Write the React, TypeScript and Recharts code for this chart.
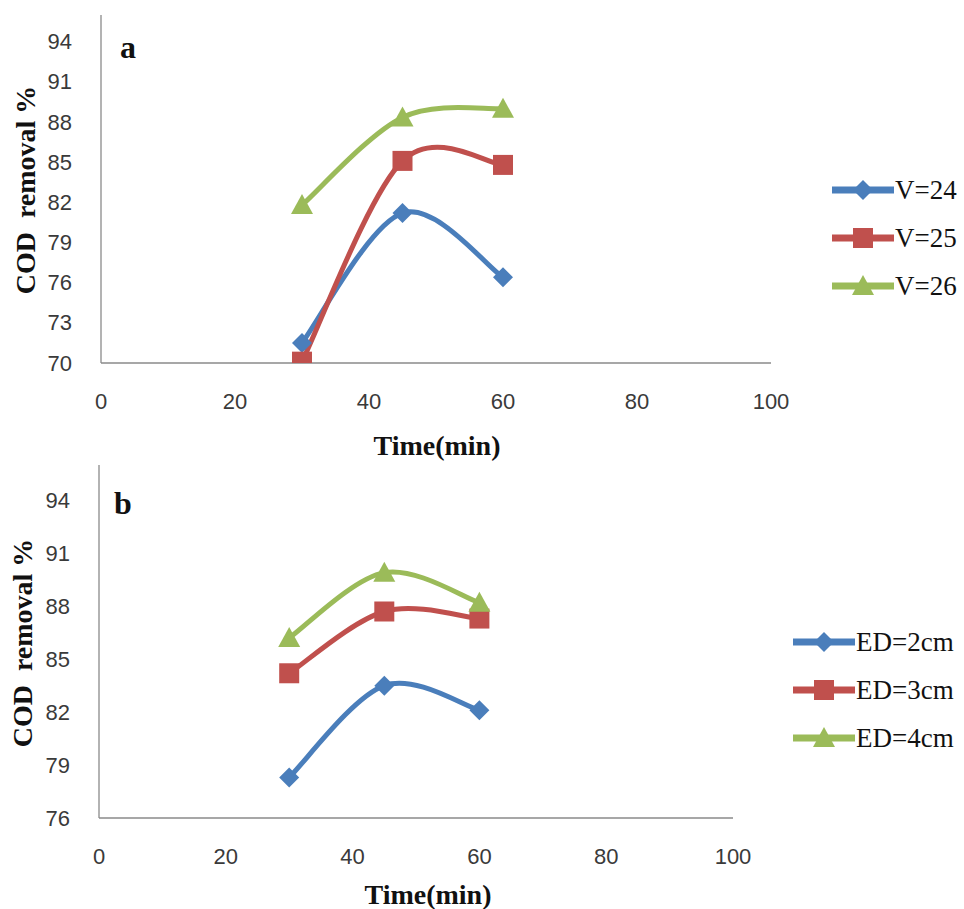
import { Legend, Line, LineChart, XAxis, YAxis } from 'recharts'

const TIME = [30, 45, 60]
const X_TICKS = [0, 20, 40, 60, 80, 100]

const V_LABELS = ['V=24', 'V=25', 'V=26']
const V24 = [71.5, 81.2, 76.4]
const V25 = [70.1, 85.1, 84.8]
const V26 = [81.8, 88.35, 89.0]
const Y_TICKS_A = [70, 73, 76, 79, 82, 85, 88, 91, 94]

const ED_LABELS = ['ED=2cm', 'ED=3cm', 'ED=4cm']
const ED2 = [78.3, 83.5, 82.1]
const ED3 = [84.2, 87.7, 87.3]
const ED4 = [86.2, 89.9, 88.2]
const Y_TICKS_B = [76, 79, 82, 85, 88, 91, 94]

const COLORS = ['#4a7ebb', '#c0504d', '#9bbb59']
const SHAPES = ['diamond', 'square', 'triangle'] as const

const TICK_FONT = '"Liberation Sans", Arial, sans-serif'
const SERIF = '"Liberation Serif", "Times New Roman", serif'
const AXIS_COLOR = '#8a8a8a'

// excel-ish smoothing: catmull-rom as cubic beziers
const excelSmooth = (context: any) => {
	let pts: [number, number][] = []
	return {
		areaStart() {},
		areaEnd() {},
		lineStart() {
			pts = []
		},
		point(x: number, y: number) {
			pts.push([+x, +y])
		},
		lineEnd() {
			const n = pts.length
			if (!n) return
			context.moveTo(pts[0][0], pts[0][1])
			for (let i = 0; i < n - 1; i++) {
				const p0 = pts[Math.max(i - 1, 0)]
				const p1 = pts[i]
				const p2 = pts[i + 1]
				const p3 = pts[Math.min(i + 2, n - 1)]
				context.bezierCurveTo(
					p1[0] + (p2[0] - p0[0]) / 6,
					p1[1] + (p2[1] - p0[1]) / 6,
					p2[0] - (p3[0] - p1[0]) / 6,
					p2[1] - (p3[1] - p1[1]) / 6,
					p2[0],
					p2[1],
				)
			}
		},
	}
}

function Marker({ shape, cx, cy, color }: { shape: string; cx: number; cy: number; color: string }) {
	if (shape === 'diamond') {
		return <path d={`M${cx},${cy - 10}L${cx + 10},${cy}L${cx},${cy + 10}L${cx - 10},${cy}Z`} fill={color} />
	}
	if (shape === 'square') {
		return <rect x={cx - 10} y={cy - 10} width={20} height={20} fill={color} />
	}
	return <path d={`M${cx},${cy - 11}L${cx + 11},${cy + 9}L${cx - 11},${cy + 9}Z`} fill={color} />
}

const makeDot = (i: number) => (props: any) => {
	const { cx, cy, index } = props
	if (cx == null || cy == null) return <g key={`d-${i}-${index}`} />
	return (
		<g key={`d-${i}-${index}`}>
			<Marker shape={SHAPES[i]} cx={cx} cy={cy} color={COLORS[i]} />
		</g>
	)
}

function XTick(props: any) {
	const { x, y, payload } = props
	return (
		<text x={x} y={y + 38} textAnchor="middle" dominantBaseline="central" fontFamily={TICK_FONT} fontSize={22} fill="#3a3a3a">
			{payload.value}
		</text>
	)
}

function YTick(props: any) {
	const { x, y, payload } = props
	return (
		<text x={x} y={y} textAnchor="end" dominantBaseline="central" fontFamily={TICK_FONT} fontSize={22} fill="#3a3a3a">
			{payload.value}
		</text>
	)
}

function LegendBox({ labels, left, top }: { labels: string[]; left: number; top: number }) {
	return (
		<div style={{ position: 'absolute', left, top }}>
			{labels.map((l, i) => (
				<div key={l} style={{ display: 'flex', alignItems: 'center', height: 48 }}>
					<svg width={62} height={24} style={{ display: 'block' }}>
						<line x1={0} y1={12} x2={62} y2={12} stroke={COLORS[i]} strokeWidth={7} strokeLinecap="round" />
						<Marker shape={SHAPES[i]} cx={31} cy={12} color={COLORS[i]} />
					</svg>
					<span style={{ fontFamily: SERIF, fontSize: 27, color: '#111', marginLeft: 1, lineHeight: 1 }}>{l}</span>
				</div>
			))}
		</div>
	)
}

interface PanelProps {
	height: number
	series: number[][]
	labels: string[]
	yTicks: number[]
	yDomain: [number, number]
	margin: { top: number; right: number; bottom: number; left: number }
	letter: string
	letterPos: [number, number]
	xTitlePos: [number, number]
	yTitlePos: [number, number]
	legendPos: [number, number]
}

function Panel({ height, series, labels, yTicks, yDomain, margin, letter, letterPos, xTitlePos, yTitlePos, legendPos }: PanelProps) {
	const rows = TIME.map((t, k) => {
		const r: Record<string, number> = { t }
		series.forEach((s, i) => {
			r[`s${i}`] = s[k]
		})
		return r
	})
	return (
		<LineChart width={964} height={height} data={rows} margin={margin}>
			<XAxis
				dataKey="t"
				type="number"
				domain={[0, 100]}
				ticks={X_TICKS}
				height={30}
				tickLine={false}
				tickSize={0}
				tickMargin={0}
				axisLine={{ stroke: AXIS_COLOR, strokeWidth: 1.3 }}
				tick={<XTick />}
				interval={0}
			/>
			<YAxis
				type="number"
				domain={yDomain}
				ticks={yTicks}
				width={60}
				tickLine={false}
				tickSize={0}
				tickMargin={29}
				axisLine={{ stroke: AXIS_COLOR, strokeWidth: 1.3 }}
				tick={<YTick />}
				interval={0}
				allowDataOverflow
			/>
			{series.map((_, i) => (
				<Line
					key={i}
					dataKey={`s${i}`}
					name={labels[i]}
					type={excelSmooth as any}
					stroke={COLORS[i]}
					strokeWidth={5}
					dot={makeDot(i)}
					activeDot={false}
					isAnimationActive={false}
				/>
			))}
			<Legend
				layout="horizontal"
				verticalAlign="middle"
				align="center"
				wrapperStyle={{ position: 'absolute', left: 0, top: 0, width: 0, height: 0 }}
				content={() => <LegendBox labels={labels} left={legendPos[0]} top={legendPos[1]} />}
			/>
			<text x={letterPos[0]} y={letterPos[1]} textAnchor="middle" dominantBaseline="central" fontFamily={SERIF} fontWeight="bold" fontSize={32} fill="#111">
				{letter}
			</text>
			<text x={xTitlePos[0]} y={xTitlePos[1]} textAnchor="middle" dominantBaseline="central" fontFamily={SERIF} fontWeight="bold" fontSize={28} fill="#111">
				Time(min)
			</text>
			<text
				x={yTitlePos[0]}
				y={yTitlePos[1]}
				textAnchor="middle"
				dominantBaseline="central"
				fontFamily={SERIF}
				fontWeight="bold"
				fontSize={28}
				fill="#111"
				transform={`rotate(-90 ${yTitlePos[0]} ${yTitlePos[1]})`}
				style={{ whiteSpace: 'pre' }}
			>
				{'COD  removal %'}
			</text>
		</LineChart>
	)
}

export default function App() {
	return (
		<div style={{ position: 'absolute', left: 0, top: 0, width: 964, height: 909, background: '#fff', overflow: 'hidden' }}>
			<div style={{ position: 'absolute', left: 0, top: 0 }}>
				<Panel
					height={466}
					series={[V24, V25, V26]}
					labels={V_LABELS}
					yTicks={Y_TICKS_A}
					yDomain={[70, 96]}
					margin={{ top: 15, right: 193, bottom: 73, left: 41 }}
					letter="a"
					letterPos={[128, 47]}
					xTitlePos={[437, 445]}
					yTitlePos={[25, 190]}
					legendPos={[832, 166]}
				/>
			</div>
			<div style={{ position: 'absolute', left: 0, top: 455 }}>
				<Panel
					height={454}
					series={[ED2, ED3, ED4]}
					labels={ED_LABELS}
					yTicks={Y_TICKS_B}
					yDomain={[76, 96]}
					margin={{ top: 10, right: 231, bottom: 61, left: 39 }}
					letter="b"
					letterPos={[123, 48]}
					xTitlePos={[428, 439]}
					yTitlePos={[22, 188]}
					legendPos={[793, 163]}
				/>
			</div>
		</div>
	)
}
